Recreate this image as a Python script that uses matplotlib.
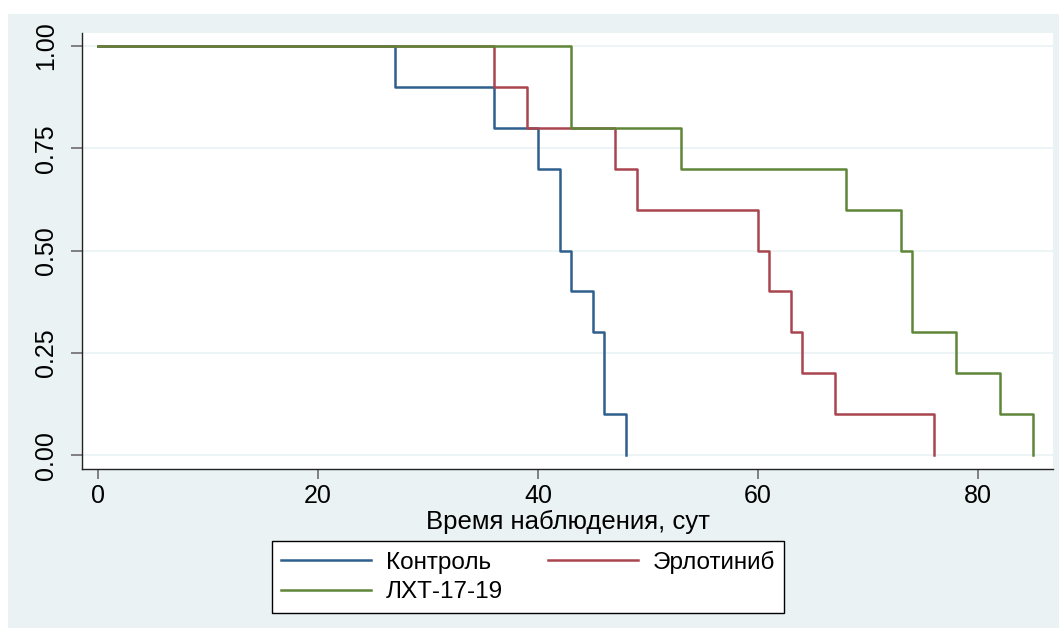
import matplotlib.pyplot as plt
from matplotlib.patches import Rectangle

plt.rcParams['font.family'] = ['Liberation Sans', 'DejaVu Sans']

# Kaplan-Meier estimates
t_control = [0, 27, 36, 40, 42, 43, 45, 46, 48]
s_control = [1.0, 0.9, 0.8, 0.7, 0.5, 0.4, 0.3, 0.1, 0.0]

t_erlot = [0, 36, 39, 47, 49, 60, 61, 63, 64, 67, 76]
s_erlot = [1.0, 0.9, 0.8, 0.7, 0.6, 0.5, 0.4, 0.3, 0.2, 0.1, 0.0]

t_lxt = [0, 43, 53, 68, 73, 74, 78, 82, 85]
s_lxt = [1.0, 0.8, 0.7, 0.6, 0.5, 0.3, 0.2, 0.1, 0.0]

labels = ['Контроль', 'Эрлотиниб', 'ЛХТ-17-19']
colors = ['#2f5f8c', '#a9454e', '#5f8638']

x_ticks = [0, 20, 40, 60, 80]
y_ticks = [0.0, 0.25, 0.5, 0.75, 1.0]
y_ticklabels = ['0.00', '0.25', '0.50', '0.75', '1.00']

bg = '#eaf2f3'

fig = plt.figure(figsize=(10.59, 6.28), dpi=100)
fig.patch.set_facecolor('white')
fig.add_artist(Rectangle((8 / 1059, 0), 1 - 8 / 1059, 1 - 14 / 628,
                         transform=fig.transFigure, facecolor=bg,
                         edgecolor='none', zorder=-10))

ax = fig.add_axes([82 / 1059, 1 - 469 / 628, (1053 - 82) / 1059, (469 - 33) / 628])
ax.set_facecolor('white')

lines = []
for t, s, c, lab in zip([t_control, t_erlot, t_lxt],
                        [s_control, s_erlot, s_lxt], colors, labels):
    ln, = ax.step(t, s, where='post', color=c, linewidth=1.8, label=lab)
    lines.append(ln)

ax.set_xlim(-1.45, 86.8)
ax.set_ylim(-0.034, 1.032)
ax.set_xticks(x_ticks)
ax.set_yticks(y_ticks)
ax.set_yticklabels(y_ticklabels, rotation=90, va='center')
ax.grid(axis='y', color=bg, linewidth=1.2)
ax.set_axisbelow(True)

for side in ['top', 'right']:
    ax.spines[side].set_visible(False)
for side in ['left', 'bottom']:
    ax.spines[side].set_color('#222222')
    ax.spines[side].set_linewidth(1.0)

ax.tick_params(axis='x', length=7, width=1.3, color='#777777', labelsize=18, pad=4)
ax.tick_params(axis='y', length=8, width=1.3, color='#777777', labelsize=18, pad=9)

ax.set_xlabel('Время наблюдения, сут', fontsize=18.5, labelpad=1)

# row-major order as in the original legend
order = [0, 2, 1]
leg = fig.legend([lines[i] for i in order], [labels[i] for i in order], ncol=2,
                 loc='center', bbox_to_anchor=(528 / 1059, 1 - 577 / 628),
                 fontsize=17.5, frameon=True, fancybox=False, edgecolor='black',
                 framealpha=1, handlelength=3.7, handletextpad=0.6,
                 columnspacing=1.85, borderpad=0.4, labelspacing=0.3)
leg.get_frame().set_linewidth(1.0)

fig.savefig('out.png', dpi=100, facecolor=fig.get_facecolor())
